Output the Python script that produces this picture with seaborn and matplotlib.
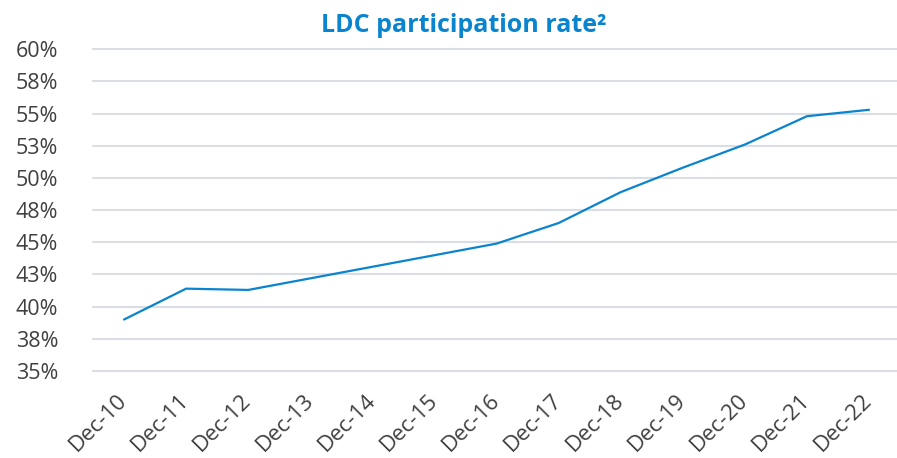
import pandas as pd
import seaborn as sns
import matplotlib.pyplot as plt

months = ['Dec-10', 'Dec-11', 'Dec-12', 'Dec-13', 'Dec-14', 'Dec-15', 'Dec-16',
          'Dec-17', 'Dec-18', 'Dec-19', 'Dec-20', 'Dec-21', 'Dec-22']
rate = [39.0, 41.4, 41.3, 42.2, 43.1, 44.0, 44.9,
        46.5, 48.9, 50.8, 52.6, 54.8, 55.3]
y_ticks = [35, 37.5, 40, 42.5, 45, 47.5, 50, 52.5, 55, 57.5, 60]
y_tick_labels = ['35%', '38%', '40%', '43%', '45%', '48%', '50%', '53%', '55%', '58%', '60%']

blue = '#0A84CE'
grid = '#D9DEE5'
txt = '#404040'

df = pd.DataFrame({'month': months, 'rate': rate})

sns.set_style('white')
plt.rcParams['font.family'] = ['Open Sans', 'DejaVu Sans']

fig = plt.figure(figsize=(8.97, 4.58), dpi=100)
ax = fig.add_axes([93 / 897, 1 - 371 / 458, 1 - 93 / 897, (371 - 49.3) / 458])

sns.lineplot(data=df, x='month', y='rate', sort=False, color=blue, linewidth=1.6, ax=ax)

ax.set_ylim(35, 60)
ax.set_xlim(-0.5, 12.45)
ax.set_yticks(y_ticks)
ax.set_yticklabels(y_tick_labels)
for y in y_ticks:
    ax.axhline(y, color=grid, linewidth=1.5, zorder=0, clip_on=False)

ax.set_xticks(range(len(months)))
ax.set_xticklabels(months, rotation=45, ha='right', va='center', rotation_mode='anchor')
ax.tick_params(axis='x', length=0, pad=19, labelsize=16, labelcolor=txt)
ax.tick_params(axis='y', length=0, pad=25, labelsize=15.5, labelcolor=txt)
for lab in ax.get_yticklabels():
    lab.set_horizontalalignment('right')

ax.set_xlabel('')
ax.set_ylabel('')
sns.despine(ax=ax, left=True, bottom=True)

fig.text(464 / 897, 1 - 32 / 458, 'LDC participation rate²', ha='center', va='baseline',
         fontsize=18, fontweight='bold', color=blue)

fig.savefig('out.png', dpi=100)
